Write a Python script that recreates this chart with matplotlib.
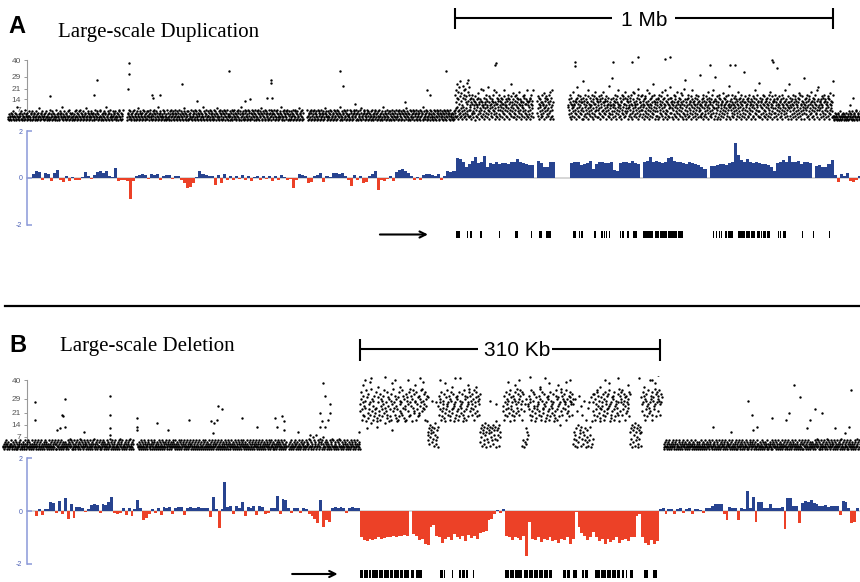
import numpy as np
import matplotlib
matplotlib.use('Agg')
import matplotlib.pyplot as plt
from matplotlib.lines import Line2D

W, H = 860, 582
BLUE = '#27438f'
RED = '#ec4127'

plt.rcParams['font.family'] = ['Liberation Sans', 'DejaVu Sans']

# ---------------------------------------------------------------- data
# scatter values: one base-36 char per probe (0-9, a=10 ... z=35),
# segments are (start kb, end kb, values)
A1 = ("21403125043216302514039120425316041235207143025136"
      "30215406123450213604125382014536210435126032415027"
      "14203651240317204532106423519024361205431627035124"
      "02531406217350241637205143260315428013562403152604"
      "35120473162504213760241530624159032614502731420635"
      "4126301524073612504317")
A2 = ("20451736204153260714325061438205163402571630421536"
      "13624057132406315720461352094135620431726053142071"
      "52031647205314620735142063517240365120483615204361"
      "06142537120463157204631250743162053491260351472063"
      "31570264135027413605824136025714306251470362517403"
      "24036157204613725041632750146209351642075136042715"
      "63105274163025741306257140362581043625170463251074"
      "15273046125740361257204316529403162570431625704163"
      "4061235704136275041623805146327051")
A3 = ("27035146207513642071536420715364027153604218536402"
      "61352047163250471632054713625049136205417362504713"
      "32047156302417563204715063241758032417563024175063"
      "51420637142053671240536172043516209413562047315260"
      "14630527143602571432605174360251743062518436025147"
      "03624157206341570263415720634519026341570263145720"
      "46213057246103572461305724163057426130527461350724"
      "3152406137")
A4a = "5h2c8k3f9o1e6j4b7m2g5q3d8i1a6n4f9h2k7e5l3c8g1p6b4jr3d7h2m9e"
A4b = ("3a7f1c5h4b2e6d8a5g0c3b7e2a9f4i1b6c8e5l3d7a2c9k4a1f"
       "6b8c3e5h2d9a7m4c1g6f8a3b5e2d9h7c4a6k1c8b3j5f2b9e7d"
       "4h1d7a3f9c6b2e8b5g1k4a7c3e9a6d2f8h5b1e7c4g3o9c6a2i"
       "8e5b2g7d4a1h9f3c6e8j2b5e7a4d1c9a3g6c8f2h5b7b4e1k3d"
       "2c6a9d4f7e1b3h8d5a2k")
A5 = "5d3g8b1f6a9e2c4c7h3a5b8i1d6f9a2g4e7e3c8h5b1j6d9f2k3a7c1"
A6a = ("9a4e7c2h5f1b8a3d6j9b2a5d7e4c1f8m3b6h9d2g5a7c4e1c8q"
       "1f6b3d9h4e7a2c5c8g1k4b6a3f9d7a2h5e8c1g4b6b3j9f7d2e"
       "7c2a5g8e1d4h9b6f3c7j2c5a8d4e1g6d9a3b7f5n2a8c4a1e6s"
       "4b9f2d6a3h8c1e5g7c4k9b2a6f3a8d1c5h7e4g9b2b6j3f8a5d"
       "6e1c8g3a9d4f7b2h5a1j6e8c3i9a4b7d2f5b1h8l6e3c9c4a7g"
       "2h7d4b9e1a6g3f8c5b2k7a4d9i1b6e3a8f5g2c7o4h9d1b6c3e"
       "8a3c6f1e9h2b5d7a4g3j8c1e6b9f2a5k7d4c1h6e3b8a2m9f5c"
       "5f2b8d1a7c4h9e3g6a2c5j8b1d4f7e9a3i6c2b8h5d1a4l7e3r"
       "1c9e4a6h2f8b3d5c7g1a4e9k2c6b8d3f5a7h1e4b9c2g6d8a3u")
A6b = ("7b4a2e9c5f1h8d3a6b4g2c7e9j5a1d8f3b6c4e2h7a9k5c1d8t"
       "3e8d5b1g7a2c9f4h6e1a8b3d5c7i2f9a4e6b1g8c3d5h7a2n9b"
       "9d1a7e3c5h8b2f6a4g9c1e7d3b5a8j2e6c4f9b1h7a3d5e8c2w"
       "4g7c1a9e6b3f2d8h5a7c4e1b9d6g3a2f8c5k1e7b4h9a6d3c2p"
       "6a2f9c4d1e8b5h3g7a2c6e9d4b1f8a3h5c7j2e4b9a6g1d8c5e"
       "2d5h8a3c7e1f9b4a6g2d8c5e3b7h1a9f4c6k8d2b5e7a3c9g1o"
       "8c6a3f1d9b4e7h2a5c8g3e6b1d9a4f7c2i5e8h3a6b1d4g9c7s"
       "5b1e8a4c7f2h9d3a6e1g8b4c5j7a2d9f3e6c1h8b5a4d7k2e9m"
       "1a7d4c8e2b6g9a3f5c1h7e4d8b2a6c9f3g5e1b7i4a8d2c6h3q")
A7 = "21305214302415302613042153024130522130416235140263150423617024531206"

A_SEGMENTS = [(21, 325, A1), (336, 802, A2), (812, 1204, A3),
              (1204, 1243, A4a), (1243, 1410, A4b), (1421, 1463, A5),
              (1503, 1852, A6a), (1852, 2204, A6b), (2204, 2275, A7)]

A_OUT_KB = [132, 257, 249, 341, 341, 339, 402, 423, 405, 481, 521, 606, 648,
            661, 706, 717, 717, 720, 899, 907, 939, 1071, 1138, 1130, 1180,
            1310, 1312, 1688, 1672, 1622, 1521, 1521, 1759, 1772, 2045, 2056,
            1931, 1944, 1878, 2042, 2257, 2249]
A_OUT_VAL = [16, 27, 17, 38, 31, 21, 17, 17, 15, 24, 13, 33, 13,
             14, 15, 27, 25, 15, 33, 23, 11, 12, 17, 20, 33,
             37, 38, 42, 39, 39, 39, 36, 41, 42, 39, 35,
             37, 37, 37, 40, 15, 10]

B1a = ("21302413520314201325302142031520413021432051302143"
       "20153024131520431205132043125031420521304125302143"
       "05213402315203142051302413503024152031420513024132"
       "41302153024613520413025130421530241630521430251342"
       "03152041352031420536130241503214205130421350241302"
       "13504213620415302143052130241530621430521302415302"
       "1430521630241530")
B1b = ("31204213520413021543021320541302153402130542130214"
       "02315240132054130241532014350213420315241302513204"
       "13502413052143025130421503241352031420512304152031"
       "42051320412503142051302413520314025130241352031420"
       "51304215302143025130421530241302513420315204130251"
       "34021530421350241320513024153021430512304215302413"
       "05213402153024130521430251304215320143025130421530"
       "2413052143025130421")
B1c = ("20314205132041352031420513204135203142051324031625"
       "04132071523408213540261430517302413520413025140326"
       "15204130251403261520413025143021530241305214302513"
       "041253021430")
B2a = ("qmtxhnrkvpjsoygucliwnqrkfztmhpsjvlnoxidgrumkwhtpjsn"
       "vqlyfomrixkupgtnjwhsqbzmrovkitpgnuhxjsqmrlykvotipg"
       "nwhusmqjxrzkpvtgyolmwsrhxnqjuvkltpyrmzsoqnwxhtpvgu")
B2b = "5a8c3e7b9d4s6a2c8f5r3b7d1"
B2c = ("pkvnrthxmjqsowilgunpyqrkvmthjxsnlowqpgrikumvthnxjp"
       "sqolrwkgmiyvtnhpuqjrxzmvoskqwtnyhrlpuxmjvsqtkw")
B2d = "4a7c2e9b5d3f8a1c6e4b9d2s7a5c3e8b6dq1g5b8c2e7a"
B3a = "pmvhrkxntjqsowlygupnrkvmthjxsqlozwmrtkyvnqshx"
B3b = "2w5m1q4c3t6a8p"
B3c = ("qnvkrtyhmjxspwolgiunpqrkvmztjhsxnlowqpgrikumvthnxj"
       "psqolrwkgmiyvtnhpuqjrezxmvkotswqrnyhtlmpvjsuxrqwkt")
B3d = "3q6a2t8c5m1e4v7b9p2d6k3a8s5c1h4b7o2r5d8u1g3w6"
B3e = ("rmwkhtqnyjxvplsogiunprkwmthxjsqvlnowpyqgrikumvthn"
       "xjpsqolrwkgzvmtrxkyqnswuhpvlmrtoqxjw")
B3f = "3a6c1e4b8d2f5a7c3e1b6d9a2"
B3g = "uqmxrkvthwsnpjyqlomrvtkxhsupnqzwjrxtvmsyqkwru"
B4 = ("13024153021430521302415302143052130241530214305213"
      "20413520314201325302142031520413021432051302143021"
      "53024131520431205132043125031420521304125302143052"
      "13402315203142051302413503024152031420531204213520"
      "41302154302413520314201325302142031520413021432051"
      "30214320153024131520431205132043125031420521304125"
      "30214305213402315203142051302413503024152031420513"
      "02413241302153024613520413025130421530241630521430"
      "25134203152041352031420536130241503214205130421350"
      "2413021350421362041530")

B_SEGMENTS = [(3, 138, B1a), (142, 296, B1b), (298, 372, B1c),
              (372, 442, B2a), (442, 453, B2b), (453, 496, B2c),
              (496, 517, B2d), (520, 540, B3a), (540, 546, B3b),
              (546, 592, B3c), (592, 613, B3d), (613, 651, B3e),
              (651, 663, B3f), (663, 684, B3g), (686, 889, B4)]

B_OUT_KB = [36, 36, 67, 64, 65, 62, 59, 67, 114, 114, 114, 114, 87, 142, 142,
            142, 162, 174, 195, 218, 221, 225, 229, 224, 220, 250, 266, 284,
            286, 292, 294, 294, 308, 334, 336, 341, 341, 331, 333, 339, 336,
            331, 371, 320,
            377, 384, 408, 434, 455, 470, 537, 563, 589, 625, 661, 672, 677,
            375, 382, 391, 398, 405, 413, 422, 429, 437, 460, 467, 475, 484,
            492, 525, 532, 548, 558, 568, 577, 585, 620, 630, 639, 649, 666,
            674, 680,
            773, 777, 798, 783, 778, 821, 827, 816, 813, 842, 837, 834, 880,
            878, 737, 756, 850, 863, 873]
B_OUT_VAL = [27, 17, 29, 20, 19, 12, 11, 13, 31, 20, 12, 8, 10, 18, 13,
             11, 15, 11, 17, 16, 15, 25, 23, 17, 9, 18, 13, 18,
             13, 19, 16, 11, 10, 38, 31, 26, 21, 21, 16, 17, 13,
             13, 10, 8,
             40, 41, 40, 41, 40, 41, 40, 41, 40, 40, 41, 40, 38,
             37, 39, 36, 42, 38, 36, 40, 37, 39, 38, 36, 41, 37,
             36, 39, 37, 42, 36, 38, 37, 39, 36, 38, 41, 37, 36,
             40, 43,
             28, 20, 18, 13, 11, 37, 30, 21, 17, 23, 17, 12, 34,
             13, 13, 10, 21, 12, 9]

# log-ratio bars in hundredths, fixed bins
A_BAR_START, A_BAR_BIN = 85, 8
A_BARS = [17, 30, 25, -8, 20, 15, -12, 20, 34, -10,
          -15, 8, -14, 6, -10, -8, 5, 27, 10, -6,
          12, 25, 30, 22, 28, 10, 6, 44, -12, -10,
          -8, -12, -91, -14, 8, 14, 15, 12, -6, 15,
          12, 16, -8, 10, 14, 12, -6, 10, 8, -10,
          -22, -44, -38, -20, 6, 30, 15, 12, 10, 8,
          -30, 12, -22, 15, -10, 8, -10, 10, -6, 12,
          -8, 10, -12, 6, 10, -10, 8, -6, 10, -12,
          8, -10, 12, 6, -8, -6, -44, -8, 15, 12,
          10, -20, -18, 8, 12, 23, -15, 10, 6, 20,
          22, 18, 20, 10, -8, -34, 12, -10, 8, -20,
          -18, 10, 15, 30, -52, -10, -14, -6, 8, -12,
          25, 32, 37, 28, 20, 8, -10, 6, -8, 12,
          15, 18, 12, 10, 16, -10, 8, 30, 25, 30,
          # duplicated region
          85, 80, 70, 45, 60, 72, 88, 62, 70, 95,
          48, 62, 58, 66, 60, 62, 64, 60, 68, 66,
          80, 70, 64, 60, 56, 55, 0, 72, 62, 45,
          48, 70, 66, 0, 0, 0, 0, 0, 62, 70,
          68, 55, 60, 64, 72, 38, 58, 66, 70, 62,
          65, 68, 35, 30, 62, 66, 70, 64, 72, 62,
          58, 0, 68, 74, 90, 70, 72, 68, 65, 70,
          85, 88, 72, 68, 70, 64, 60, 66, 62, 60,
          55, 48, 40, 0, 50, 52, 56, 58, 60, 55,
          62, 68, 150, 100, 75, 70, 82, 68, 64, 66,
          62, 60, 58, 55, 45, 30, 62, 68, 75, 70,
          95, 70, 66, 72, 60, 68, 70, 64, 0, 50,
          55, 45, 48, 58, 78,
          12, -18, 18, 10, 22, -12, -15, -10, 8]

B_BAR_START, B_BAR_BIN = 36, 3
B_BARS = [-20, 6, -15, 9, 9, 35, 30, -8, 37, -10,
          50, -29, 27, -25, 15, 15, 12, -5, 8, 22,
          25, 22, -8, 27, 24, 34, 55, -6, -10, -8,
          10, -17, 12, -20, 8, 40, 10, -33, -25, -10,
          9, -8, 12, -15, 15, 12, 14, -10, 12, 15,
          14, -15, 12, 16, 10, 12, 14, 10, 12, 10,
          -22, 52, 8, -63, 8, 109, 15, 20, -10, 18,
          12, 34, -20, 15, 10, 18, -17, 20, 15, -10,
          -8, 10, 12, 59, -10, 45, 40, 12, -8, 10,
          12, -6, 10, 8, -10, -20, -30, -45, 40, -60,
          -35, -40, 12, 15, 10, 17, 12, -8, 10, 15, 12, 10,
          # deleted region
          -100, -110, -115, -108, -112, -105, -100, -108, -102, -98,
          -100, -96, -98, -94, -96, -92, -94, 0, -88, -95,
          -110, -105, -125, -130, -60, -55, -95, -100, -120, -105,
          -98, -110, -88, -100, -105, -95, -115, -90, -102, -96,
          -108, -85, -80, -75, -35, -30, -10, 5, -8, 6,
          -95, -100, -110, -98, -104, -112, -95, -173, -40, -108,
          -112, -100, -118, -105, -110, -98, -115, -110, -120, -105,
          -112, -100, -125, -108, -5, -60, -85, -95, -110, -100,
          -80, -100, -115, -108, -125, -105, -118, -110, -100, -120,
          -112, -105, -115, -100, -98, -20, -12, -100, -120, -130,
          -110, -125, -115,
          8, 10, -10, 6, 8, -12, 8, 10, -8, 6,
          10, -10, 8, 6, 5, -8, 10, 12, 20, 27,
          27, 25, -12, -35, 15, 12, 10, -35, 10, 8,
          75, 12, 55, -40, 34, 34, 10, 12, 25, 10,
          12, 10, 15, -70, 50, 48, 20, 18, -45, 30,
          38, 35, 40, 30, 28, 20, 18, 22, 15, 20,
          18, 20, -15, 37, 35, 10, -45, -40, 12]

A_GENES = [(1206, 10), (1235, 4), (1243, 5), (1270, 4), (1320, 3), (1362, 3),
           (1366, 4), (1405, 3), (1426, 8), (1444, 7), (1452, 6), (1516, 4),
           (1521, 3), (1532, 3), (1537, 4), (1571, 5), (1590, 4), (1597, 4),
           (1603, 3), (1611, 3), (1640, 3), (1646, 5), (1659, 5), (1675, 4),
           (1681, 4), (1701, 12), (1715, 13), (1733, 10), (1745, 8), (1755, 10),
           (1767, 12), (1781, 10), (1793, 14), (1886, 3), (1893, 4), (1902, 3),
           (1907, 3), (1918, 5), (1926, 13), (1952, 10), (1964, 8), (1974, 11),
           (1987, 10), (2003, 8), (2013, 4), (2019, 8), (2029, 8), (2058, 3),
           (2063, 3), (2071, 2), (2075, 3), (2122, 2), (2151, 2), (2193, 3)]
B_GENES = [(372, 3), (376, 4), (381, 3), (385, 6), (392, 4), (397, 5),
           (403, 3), (407, 5), (413, 4), (418, 5), (425, 3), (430, 6),
           (455, 3), (459, 1.5), (467, 1.5), (474, 3), (478, 3), (482, 2),
           (489, 1.5), (522, 4), (527, 4), (532, 4), (537, 3), (542, 4),
           (547, 4), (552, 4), (557, 4), (562, 4), (567, 4), (582, 3),
           (586, 3), (592, 4), (602, 2), (605, 3), (615, 5), (621, 5),
           (627, 5), (633, 4), (638, 3), (643, 2), (647, 1.5), (651, 3),
           (666, 4), (675, 4)]

A_XMAX = 2275      # kb shown across the panel
B_XMAX = 889


# ---------------------------------------------------------------- helpers
def px_axes(fig, x0, y0, x1, y1):
    ax = fig.add_axes([x0 / W, 1 - y1 / H, (x1 - x0) / W, (y1 - y0) / H])
    ax.patch.set_alpha(0)
    return ax


def seg_points(segs):
    xs, ys = [], []
    for start, end, s in segs:
        vals = [int(c, 36) for c in s]
        xs.append(np.linspace(start, end, len(vals)))
        ys.append(vals)
    return np.concatenate(xs), np.concatenate(ys)


def scatter_panel(ax, segs, out_kb, out_val, xmax):
    x, y = seg_points(segs)
    ax.scatter(x, y, s=3.0, c='black', linewidths=0, zorder=3)
    ax.scatter(out_kb, out_val, s=3.0, c='black', linewidths=0, zorder=3)
    ax.set_xlim(0, xmax)
    for side in ('top', 'right', 'bottom'):
        ax.spines[side].set_visible(False)
    ax.spines['left'].set_position(('axes', 26.5 / W))
    ax.spines['left'].set_bounds(1.5, 40)
    ax.spines['left'].set_color('#999999')
    ax.spines['left'].set_linewidth(0.8)
    ax.set_xticks([])
    ax.set_yticks([7, 14, 21, 29, 40])
    ax.tick_params(axis='y', direction='out', length=2.5, width=0.7,
                   color='#999999', labelsize=6, labelcolor='#555555', pad=1.5)


def bar_panel(ax, start, step, vals, xmax):
    v = np.array(vals) / 100.0
    x = start + step * np.arange(len(v))
    colors = [BLUE if h > 0 else RED for h in v]
    ax.bar(x, v, width=step, align='edge', color=colors, linewidth=0, zorder=2)
    ax.axhline(0, xmin=26.5 / W, color='#d6d6d6', lw=1.4, zorder=1)
    ax.set_xlim(0, xmax)
    for side in ('top', 'right', 'bottom'):
        ax.spines[side].set_visible(False)
    ax.spines['left'].set_position(('axes', 26.5 / W))
    ax.spines['left'].set_bounds(-2, 2)
    ax.spines['left'].set_color('#8a98d8')
    ax.spines['left'].set_linewidth(1.1)
    ax.set_xticks([])
    ax.set_yticks([-2, 0, 2])
    ax.set_yticklabels(['-2', '0', '2'])
    ax.tick_params(axis='y', direction='in', length=3.5, width=1.1,
                   color='#8a98d8', labelsize=5, labelcolor='#4a5fb5', pad=3)


def gene_track(ax, genes, y0, h, arrow, xmax):
    ax.broken_barh(genes, (y0, h), facecolors='black', linewidth=0)
    ax.annotate('', xy=(arrow[1], y0 + h / 2), xytext=(arrow[0], y0 + h / 2),
                arrowprops=dict(arrowstyle='->', lw=1.5, color='black',
                                shrinkA=0, shrinkB=0, mutation_scale=11))
    ax.set_xlim(0, xmax)
    ax.axis('off')


def scale_bar(ax, x0, x1, g0, g1, y, cap0, cap1, label, tx):
    kw = dict(color='black', lw=1.5, solid_capstyle='butt')
    ax.plot([x0, g0], [y, y], **kw)
    ax.plot([g1, x1], [y, y], **kw)
    ax.plot([x0, x0], [cap0, cap1], **kw)
    ax.plot([x1, x1], [cap0, cap1], **kw)
    ax.text(tx, y, label, ha='center', va='center_baseline', fontsize=15)


# ---------------------------------------------------------------- figure
fig = plt.figure(figsize=(W / 100, H / 100), dpi=100)

# panel A
fig.text(8 / W, 1 - 33 / H, 'A', fontsize=17, fontweight='bold', va='baseline')
fig.text(58 / W, 1 - 37 / H, 'Large-scale Duplication', fontsize=15,
         family='Liberation Serif', va='baseline')

sa = px_axes(fig, 0, 0, W, 50)
sa.set_xlim(0, A_XMAX)
sa.set_ylim(50, 0)
sa.axis('off')
scale_bar(sa, 1204, 2204, 1619, 1786, 18, 8, 29, '1 Mb', 1704)

ax = px_axes(fig, 0, 56, W, 123)
ax.set_ylim(-2, 42.667)
scatter_panel(ax, A_SEGMENTS, A_OUT_KB, A_OUT_VAL, A_XMAX)

ax = px_axes(fig, 0, 126, W, 230)
ax.set_ylim(-2.213, 2.213)
bar_panel(ax, A_BAR_START, A_BAR_BIN, A_BARS, A_XMAX)

ax = px_axes(fig, 0, 226, W, 244)
ax.set_ylim(244, 226)
gene_track(ax, A_GENES, 231, 7, (1005, 1132), A_XMAX)

fig.add_artist(Line2D([5 / W, 1], [1 - 305.5 / H] * 2, lw=1.6, color='black'))

# panel B
fig.text(9 / W, 1 - 352 / H, 'B', fontsize=17, fontweight='bold', va='baseline')
fig.text(60 / W, 1 - 351 / H, 'Large-scale Deletion', fontsize=15,
         family='Liberation Serif', va='baseline')

sb = px_axes(fig, 0, 330, W, 372)
sb.set_xlim(0, B_XMAX)
sb.set_ylim(372, 330)
sb.axis('off')
scale_bar(sb, 372, 682, 494, 571, 349, 339, 361, '310 Kb', 535)

ax = px_axes(fig, 0, 376, W, 452)
ax.set_ylim(-1.74, 42.32)
scatter_panel(ax, B_SEGMENTS, B_OUT_KB, B_OUT_VAL, B_XMAX)

ax = px_axes(fig, 0, 455, W, 567)
ax.set_ylim(-2.133, 2.133)
bar_panel(ax, B_BAR_START, B_BAR_BIN, B_BARS, B_XMAX)

ax = px_axes(fig, 0, 566, W, 582)
ax.set_ylim(582, 566)
gene_track(ax, B_GENES, 570, 8, (302, 349), B_XMAX)

fig.savefig('out.png', dpi=100)
